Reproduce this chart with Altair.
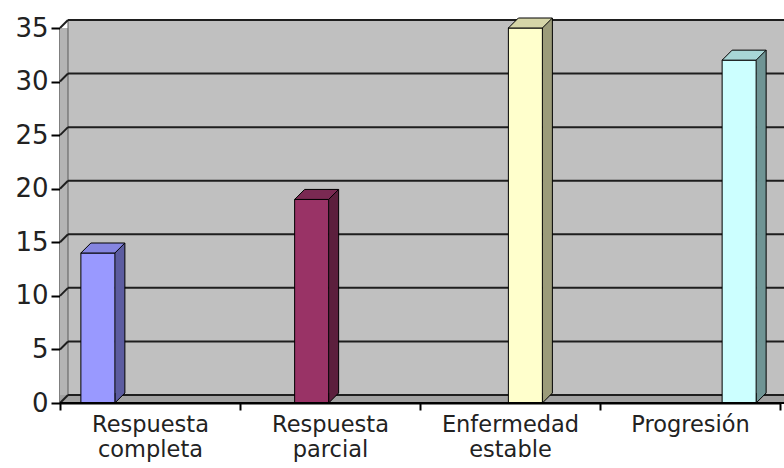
import altair as alt
import pandas as pd

categories = ["Respuesta completa", "Respuesta parcial", "Enfermedad estable", "Progresión"]
values = [14, 19, 35, 32]
front_colors = ["#9999ff", "#993366", "#ffffcc", "#ccffff"]
side_colors = ["#5c5ca0", "#5c1f3d", "#9c9c7a", "#6f9494"]
top_colors = ["#8585e0", "#7a2952", "#d6d6a8", "#a8d6d6"]
y_ticks = [0, 5, 10, 15, 20, 25, 30, 35]

df = pd.DataFrame({"cat": categories, "value": values})
grid_df = pd.DataFrame({"tick": y_ticks})

W, H = 724, 375
DX, DY = 8, -8
FONT = "DejaVu Sans"

# shapes of the 3D faces (pixel units, size=4 -> 1 unit = 1 px)
TOP_SHAPE = "M -17 0 L 17 0 L 27 -10 L -7 -10 Z"
BOTTOM_TRI = "M 27 -10 L 17 0 L 17 -10"

yscale = alt.Scale(domain=[0, 35], nice=False, zero=True)
yaxis = alt.Axis(title=None, values=y_ticks, labelFont=FONT, labelFontSize=26,
                 labelColor="#222222", labelPadding=3, tickSize=9, tickWidth=2,
                 tickColor="black", domain=True, domainColor="black",
                 domainWidth=2, grid=False)

one = alt.Data(values=[{"a": 1}])

back_wall = alt.Chart(one).mark_rect(fill="#c0c0c0").encode(
    x=alt.value(DX), x2=alt.value(W), y=alt.value(DY), y2=alt.value(H + DY)
)
left_wall = alt.Chart(one).mark_rect(fill="#b4b4b4").encode(
    x=alt.value(0), x2=alt.value(DX), y=alt.value(0), y2=alt.value(H)
)
floor = alt.Chart(one).mark_rect(fill="#a2a2a2").encode(
    x=alt.value(0), x2=alt.value(W), y=alt.value(H + DY), y2=alt.value(H)
)
wall_edge = alt.Chart(one).mark_rule(color="#5a5a5a", strokeWidth=1).encode(
    x=alt.value(DX), y=alt.value(DY), y2=alt.value(H + DY)
)

grid_back = alt.Chart(grid_df).mark_rule(color="#1e1e1e", strokeWidth=2, yOffset=DY).encode(
    x=alt.value(DX), x2=alt.value(W),
    y=alt.Y("tick:Q", scale=yscale, axis=yaxis),
)
grid_side = alt.Chart(grid_df).mark_rule(color="#1e1e1e", strokeWidth=2, y2Offset=DY).encode(
    x=alt.value(0), x2=alt.value(DX),
    y=alt.Y("tick:Q", scale=yscale, axis=yaxis),
    y2=alt.Y2("tick:Q"),
)

bar_x = alt.X("cat:N", sort=categories, axis=None,
              scale=alt.Scale(domain=categories, range=[-69, 786], paddingInner=0, paddingOuter=0))
y_val = alt.Y("value:Q", scale=yscale, axis=yaxis)
side_col = alt.Color("cat:N", scale=alt.Scale(domain=categories, range=side_colors), legend=None)
top_col = alt.Color("cat:N", scale=alt.Scale(domain=categories, range=top_colors), legend=None)
front_col = alt.Color("cat:N", scale=alt.Scale(domain=categories, range=front_colors), legend=None)

side_rect = alt.Chart(df).mark_bar(width=10, xOffset=22, yOffset=-10, y2Offset=-10).encode(
    x=bar_x, y=y_val, y2=alt.datum(0), color=side_col,
)
side_bottom = alt.Chart(df).mark_point(shape=BOTTOM_TRI, size=4, filled=True, opacity=1,
                                       stroke="black", strokeWidth=1).encode(
    x=bar_x, y=alt.Y("zero:Q", scale=yscale, axis=yaxis), color=side_col,
).transform_calculate(zero="0")
side_edge = alt.Chart(df).mark_rule(xOffset=27, yOffset=-10, y2Offset=-10,
                                    color="black", strokeWidth=1).encode(
    x=bar_x, y=y_val, y2=alt.datum(0),
)
front = alt.Chart(df).mark_bar(width=34, stroke="black", strokeWidth=1).encode(
    x=bar_x, y=y_val, y2=alt.datum(0), color=front_col,
)
top = alt.Chart(df).mark_point(shape=TOP_SHAPE, size=4, filled=True, opacity=1,
                               stroke="black", strokeWidth=1).encode(
    x=bar_x, y=y_val, color=top_col,
)
bars = alt.layer(side_rect, side_bottom, side_edge, front, top).resolve_scale(color="independent")

axes = alt.Chart(df).mark_point(opacity=0).encode(
    x=alt.X("cat:N", sort=categories,
            scale=alt.Scale(domain=categories, range=[0, 720], paddingInner=0, paddingOuter=0),
            axis=alt.Axis(title=None, labelExpr="split(datum.label, ' ')", labelFont=FONT,
                          labelFontSize=22.5, labelColor="#222222", labelAngle=0,
                          labelLineHeight=25, labelPadding=3, tickBand="extent",
                          tickSize=7, tickWidth=2, tickColor="black",
                          domain=True, domainColor="black", domainWidth=2, grid=False)),
    y=y_val,
)

front_edge = alt.Chart(one).mark_rule(color="black", strokeWidth=2).encode(
    x=alt.value(0), x2=alt.value(W), y=alt.value(H)
)

chart = alt.layer(
    back_wall, left_wall, floor, wall_edge, grid_back, grid_side, bars, front_edge, axes
).resolve_scale(x="independent", color="independent").properties(
    width=W, height=H,
    padding={"left": 60, "top": 28, "right": 0, "bottom": 65},
    autosize="none",
).configure_view(stroke=None).configure(background="white")

chart.save("out.html", embed_options={"renderer": "svg", "actions": False})
